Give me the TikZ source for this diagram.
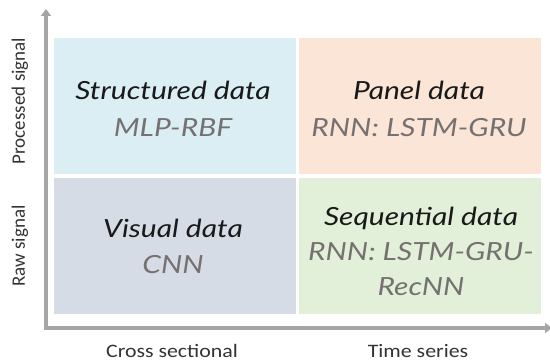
\documentclass[tikz,border=0pt]{standalone}
\usepackage{fontspec}
\setmainfont{Lato}
\newfontfamily\quadfont[FakeStretch=1.2]{Lato}
\newfontfamily\axisfont{Carlito}
\newfontfamily\axiswidefont[FakeStretch=1.15]{Carlito}
\usetikzlibrary{arrows.meta}
\definecolor{qblue}{HTML}{DAEEF3}
\definecolor{qslate}{HTML}{D6DCE5}
\definecolor{qpeach}{HTML}{FBE5D6}
\definecolor{qgreen}{HTML}{E2F0D9}
\definecolor{axisgray}{HTML}{A5A5A5}
\definecolor{subgray}{HTML}{767171}
\tikzset{
  quad/.style={draw=none, minimum width=242pt, minimum height=136pt, anchor=north west, inner sep=0pt},
  title/.style={font=\quadfont\fontsize{25}{30}\selectfont\itshape, text=black!90, anchor=base, inner sep=0pt},
  sub/.style={font=\quadfont\fontsize{25}{35}\selectfont\itshape, text=subgray, anchor=base, inner sep=0pt},
  ylabel/.style={font=\axisfont\fontsize{19}{21}\selectfont, text=black!80, rotate=90},
  xlabel/.style={font=\axiswidefont\fontsize{19}{21}\selectfont, text=black!80, anchor=base, inner sep=0pt},
  axisline/.style={draw=axisgray, line width=4pt, {Triangle[width=10pt,length=7pt]}-{Triangle[width=10pt,length=7pt]}}
}
\begin{document}
\begin{tikzpicture}[x=1pt,y=-1pt]
  \useasboundingbox (0,0) rectangle (550,363);
  % quadrants
  \node[quad, fill=qblue]  (tl) at (54,38)  {};
  \node[quad, fill=qpeach] (tr) at (299,38) {};
  \node[quad, fill=qslate] (bl) at (54,178) {};
  \node[quad, fill=qgreen] (br) at (299,178) {};
  % axes
  \coordinate (ytop) at (46,9);
  \coordinate (corner) at (46,328);
  \coordinate (xend) at (552,328);
  \draw[axisline] (ytop) -- (corner) -- (xend);
  % quadrant texts
  \node[title] (t1) at (173,100) {Structured data};
  \node[sub]   (s1) at (173,137) {MLP-RBF};
  \node[title] (t2) at (419,100) {Panel data};
  \node[sub]   (s2) at (419,137) {RNN: LSTM-GRU};
  \node[title] (t3) at (173,238) {Visual data};
  \node[sub]   (s3) at (173,274) {CNN};
  \node[title] (t4) at (421,226) {Sequential data};
  \node[sub]   (s4) at (421,261) {RNN: LSTM-GRU-};
  \node[sub]   (s5) at (421,296) {RecNN};
  % axis labels
  \node[ylabel] (ly1) at (20,101) {Processed signal};
  \node[ylabel] (ly2) at (20,246) {Raw signal};
  \node[xlabel] (lx1) at (172,358) {Cross sectional};
  \node[xlabel] (lx2) at (418,358) {Time series};
\end{tikzpicture}
\end{document}
